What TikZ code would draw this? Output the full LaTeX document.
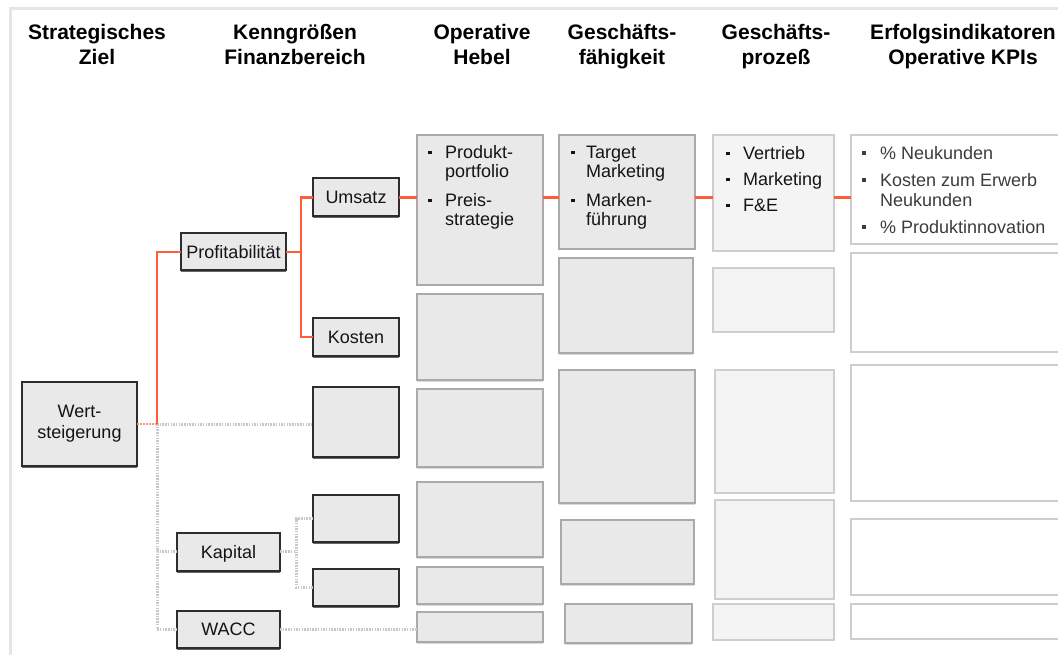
\documentclass[tikz,border=0pt]{standalone}
\usepackage{fontspec}
\setmainfont{Liberation Sans}
\usetikzlibrary{shadows}

\definecolor{orange1}{RGB}{255,92,56}
\definecolor{dotgray}{RGB}{200,200,200}
\definecolor{framegray}{RGB}{229,229,229}
\definecolor{darkedge}{RGB}{45,45,45}
\definecolor{boxfill}{RGB}{233,233,233}
\definecolor{midedge}{RGB}{170,170,170}
\definecolor{lightedge}{RGB}{206,206,206}
\definecolor{palefill}{RGB}{244,244,244}
\definecolor{txtc}{RGB}{20,20,20}
\definecolor{kpitxt}{RGB}{60,60,60}

\newcommand\lstbullet{\rule[4.5pt]{3.5pt}{3.5pt}}

\begin{document}
\begin{tikzpicture}[x=1pt,y=-1pt,
  box/.style={rectangle, inner sep=0pt, outer sep=0pt, text=txtc,
    font=\fontsize{18}{21}\selectfont},
  dbox/.style={box, draw=darkedge, line width=2pt, fill=boxfill,
    drop shadow={shadow xshift=0pt, shadow yshift=-2pt, fill=black!60, opacity=1}},
  hbox/.style={box, draw=midedge, line width=2pt, fill=boxfill,
    drop shadow={shadow xshift=0pt, shadow yshift=-1.5pt, fill=black!15, opacity=1}},
  pbox/.style={box, draw=lightedge, line width=2pt, fill=palefill},
  kbox/.style={box, draw=lightedge, line width=2.4pt, fill=white},
  head/.style={inner sep=0pt, anchor=base, text=black,
    font=\fontsize{21}{25}\selectfont\bfseries},
  lst/.style={inner sep=0pt, anchor=base west, text=txtc,
    font=\fontsize{18}{19}\selectfont},
  orline/.style={draw=orange1, line width=2.8pt},
  dotline/.style={draw=dotgray, line width=3pt, dash pattern=on 1.5pt off 1.2pt}
]
\useasboundingbox (0,0) rectangle (1058,655);
\clip (0,0) rectangle (1058,655);

% outer frame
\draw[framegray, line width=3pt] (10.5,700) -- (10.5,8.5) -- (1100,8.5);

% column headings
\node[head] (hd1) at (97,40) {\begin{tabular}[t]{@{}c@{}}Strategisches\\Ziel\end{tabular}};
\node[head] (hd2) at (295,40) {\begin{tabular}[t]{@{}c@{}}Kenngrößen\\Finanzbereich\end{tabular}};
\node[head] (hd3) at (482,40) {\begin{tabular}[t]{@{}c@{}}Operative\\Hebel\end{tabular}};
\node[head] (hd4) at (622,40) {\begin{tabular}[t]{@{}c@{}}Geschäfts-\\fähigkeit\end{tabular}};
\node[head] (hd5) at (776,40) {\begin{tabular}[t]{@{}c@{}}Geschäfts-\\prozeß\end{tabular}};
\node[head] (hd6) at (963,40) {\begin{tabular}[t]{@{}c@{}}Erfolgsindikatoren\\Operative KPIs\end{tabular}};

% strategic goal and financial figures
\node[dbox, align=center, minimum width=115pt, minimum height=84pt] (wert) at (79.5,424) {Wert-\\steigerung};
\node[dbox, minimum width=105pt, minimum height=37pt] (prof) at (233.5,252) {Profitabilität};
\node[dbox, minimum width=103pt, minimum height=38pt, text depth=0pt] (kap) at (228.5,551.5) {Kapital};
\node[dbox, minimum width=103pt, minimum height=37pt] (wacc) at (228.5,629) {WACC};
\node[dbox, minimum width=86pt, minimum height=38pt] (ums) at (356,197.5) {Umsatz};
\node[dbox, minimum width=86pt, minimum height=38pt] (kos) at (356,337) {Kosten};
\node[dbox, minimum width=86pt, minimum height=70pt] (fa) at (356,422) {};
\node[dbox, minimum width=86pt, minimum height=47pt] (fb) at (356,518.5) {};
\node[dbox, minimum width=86pt, minimum height=37pt] (fc) at (356,587.5) {};

% operative levers
\node[hbox, minimum width=126pt, minimum height=150pt] (h1) at (480,210) {};
\node[hbox, minimum width=126pt, minimum height=86pt] (h2) at (480,337) {};
\node[hbox, minimum width=126pt, minimum height=78pt] (h3) at (480,428) {};
\node[hbox, minimum width=126pt, minimum height=75pt] (h4) at (480,519.5) {};
\node[hbox, minimum width=126pt, minimum height=37pt] (h5) at (480,585.5) {};
\node[hbox, minimum width=126pt, minimum height=30pt] (h6) at (480,627) {};

% business capabilities
\node[hbox, minimum width=136pt, minimum height=114pt] (f1) at (627,192) {};
\node[hbox, minimum width=134pt, minimum height=95pt] (f2) at (626,305.5) {};
\node[hbox, minimum width=136pt, minimum height=133pt] (f3) at (627,436.5) {};
\node[hbox, minimum width=133pt, minimum height=64pt] (f4) at (627.5,552) {};
\node[hbox, minimum width=127pt, minimum height=39pt] (f5) at (628.5,623.5) {};

% business processes
\node[pbox, minimum width=121pt, minimum height=116pt] (p1) at (773.5,193) {};
\node[pbox, minimum width=121pt, minimum height=64pt] (p2) at (773.5,300) {};
\node[pbox, minimum width=119pt, minimum height=123pt] (p3) at (774.5,431.5) {};
\node[pbox, minimum width=119pt, minimum height=99pt] (p4) at (774.5,549.5) {};
\node[pbox, minimum width=121pt, minimum height=36pt] (p5) at (773.5,622) {};

% operative KPIs
\node[kbox, minimum width=249pt, minimum height=109pt] (k1) at (975.5,189.5) {};
\node[kbox, minimum width=249pt, minimum height=99pt] (k2) at (975.5,302.5) {};
\node[kbox, minimum width=249pt, minimum height=136pt] (k3) at (975.5,433) {};
\node[kbox, minimum width=249pt, minimum height=76pt] (k4) at (975.5,557) {};
\node[kbox, minimum width=249pt, minimum height=35pt] (k5) at (975.5,621.5) {};

% bullet lists
\node[lst] (h1t) at (428,159) {\begin{tabular}[t]{@{}l@{\hspace{13.5pt}}l@{}}
  \lstbullet & Produkt-\\ & portfolio\\[10pt] \lstbullet & Preis-\\ & strategie\end{tabular}};
\node[lst] (f1t) at (571,159) {\begin{tabular}[t]{@{}l@{\hspace{11.5pt}}l@{}}
  \lstbullet & Target\\ & Marketing\\[10pt] \lstbullet & Marken-\\ & führung\end{tabular}};
\node[lst] (p1t) at (726,160) {\begin{tabular}[t]{@{}l@{\hspace{13.5pt}}l@{}}
  \lstbullet & Vertrieb\\[7pt] \lstbullet & Marketing\\[7pt] \lstbullet & F\&E\end{tabular}};
\node[lst, text=kpitxt, font=\fontsize{18}{20}\selectfont] (k1t) at (862,159.5) {\begin{tabular}[t]{@{}l@{\hspace{14.5pt}}l@{}}
  \lstbullet & \% Neukunden\\[7pt] \lstbullet & Kosten zum Erwerb\\ & Neukunden\\[7pt]
  \lstbullet & \% Produktinnovation\end{tabular}};

% inactive branches (dotted)
\coordinate (j1) at (157,424);
\coordinate (j3) at (296,551.5);
\draw[dotline] (j1) -- (j1 -| fa.west);
\draw[dotline] (j1) |- (wacc.west);
\draw[dotline] (j1 |- kap.west) -- (kap.west);
\draw[dotline] (kap.east) -- (j3) |- (fb.west);
\draw[dotline] (j3) |- (fc.west);
\draw[dotline] (wacc.east) -- (wacc.east -| h6.west);

% active branch (orange)
\coordinate (j2) at (301,252);
\draw[orline, draw=orange1!65, dash pattern=on 2pt off 1pt] (wert.east) -- (j1);
\draw[orline] (j1) |- (prof.west);
\draw[orline] (prof.east) -- (j2) |- (ums.west);
\draw[orline] (j2) |- (kos.west);
\draw[orline] (ums.east) -- (ums.east -| h1.west);
\draw[orline] (ums.east -| h1.east) -- (ums.east -| f1.west);
\draw[orline] (ums.east -| f1.east) -- (ums.east -| p1.west);
\draw[orline] (ums.east -| p1.east) -- (ums.east -| k1.west);
\end{tikzpicture}
\end{document}
